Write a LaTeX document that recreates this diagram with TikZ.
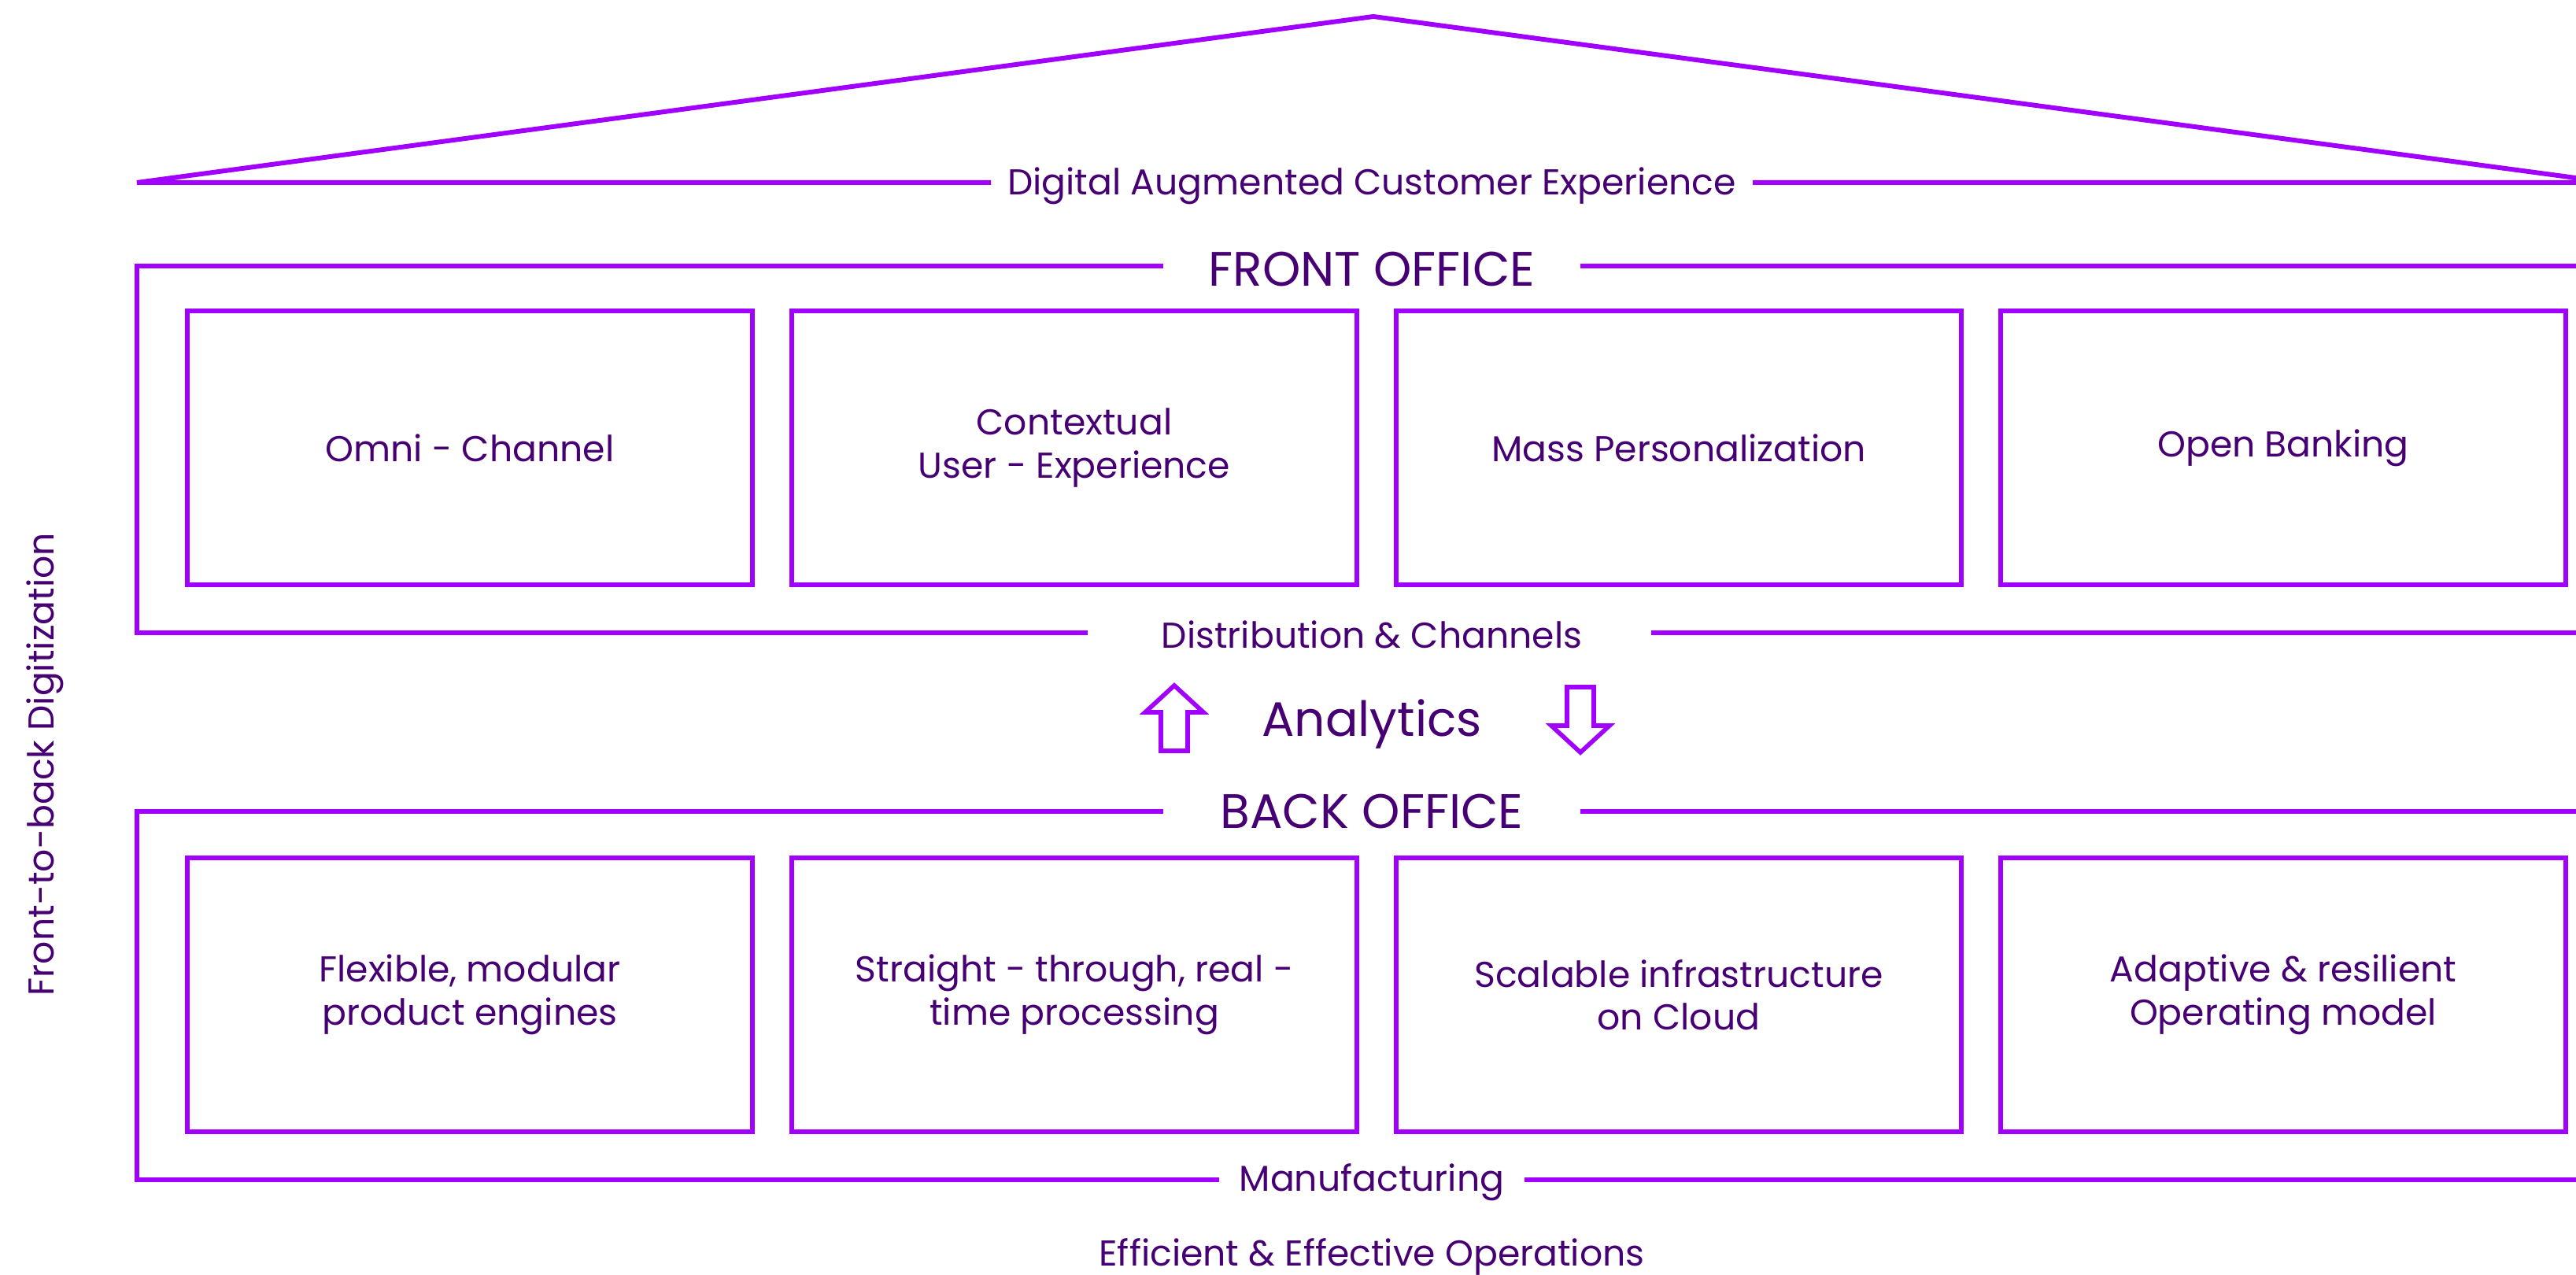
\documentclass[tikz,border=0pt]{standalone}
\usepackage{fontspec}
\setmainfont{Poppins}
\usetikzlibrary{positioning}
\definecolor{Violet}{HTML}{A100FF}
\definecolor{Plum}{HTML}{460073}
\tikzset{
  frm/.style={draw=Violet,line width=1.7pt},
  tile/.style={rectangle,draw=Violet,line width=1.7pt,minimum width=7.18cm,minimum height=3.48cm,text=Plum,align=center,font=\fontsize{13}{15.5}\selectfont},
  hd/.style={text=Plum,font=\fontsize{17.5}{21}\selectfont,inner sep=0pt},
  lb/.style={text=Plum,font=\fontsize{13}{15.5}\selectfont,inner sep=0pt},
  blk/.style={draw=Violet,line width=1.6pt,line join=miter},
}
\begin{document}
\begin{tikzpicture}
\clip (0,0) rectangle (32.73,16.19);
% -roof-
\coordinate (rl) at (1.74,13.87);
\coordinate (rt) at (17.45,15.98);
\coordinate (rr) at (33.17,13.87);
\node[lb] (dace) at (17.43,13.83) {Digital Augmented Customer Experience};
\draw[frm] (12.59,13.87) -- (rl) -- (rt) -- (rr) -- (22.27,13.87);
% -front office-
\node[hd] (fo) at (17.43,12.77) {FRONT OFFICE};
\node[lb] (dc) at (17.43,8.13) {Distribution \& Channels};
\draw[frm] (14.78,12.81) -- (1.74,12.81) -- (1.74,8.15) -- (13.82,8.15);
\draw[frm] (20.08,12.81) -- (34,12.81);
\draw[frm] (20.98,8.15) -- (34,8.15);
\node[tile] (f1) at (5.97,10.50) {Omni - Channel};
\node[tile] (f2) at (13.65,10.50) {Contextual\\User - Experience};
\node[tile] (f3) at (21.33,10.50) {Mass Personalization};
\node[tile] (f4) at (29.01,10.50) {Open Banking};
% -analytics-
\node[hd] (an) at (17.43,6.99) {Analytics};
\coordinate (ua) at (14.92,6.65);
\coordinate (da) at (20.08,7.46);
\draw[blk] (ua) ++(-0.17,0) -- ++(0,0.49) -- ++(-0.20,0) -- ++(0.37,0.34) -- ++(0.37,-0.34) -- ++(-0.20,0) -- ++(0,-0.49) -- cycle;
\draw[blk] (da) ++(-0.17,0) -- ++(0,-0.49) -- ++(-0.20,0) -- ++(0.37,-0.34) -- ++(0.37,0.34) -- ++(-0.20,0) -- ++(0,0.49) -- cycle;
% -back office-
\node[hd] (bo) at (17.43,5.88) {BACK OFFICE};
\node[lb] (mf) at (17.43,1.17) {Manufacturing};
\draw[frm] (14.78,5.88) -- (1.74,5.88) -- (1.74,1.20) -- (15.49,1.20);
\draw[frm] (20.08,5.88) -- (34,5.88);
\draw[frm] (19.37,1.20) -- (34,1.20);
\node[tile] (b1) at (5.97,3.55) {Flexible, modular\\product engines};
\node[tile] (b2) at (13.65,3.55) {Straight - through, real -\\time processing};
\node[tile] (b3) at (21.33,3.55) {Scalable infrastructure\\on Cloud};
\node[tile] (b4) at (29.01,3.55) {Adaptive \& resilient\\Operating model};
% -outer labels-
\node[lb,anchor=base] (eeo) at (17.43,0.11) {Efficient \& Effective Operations};
\node[lb,rotate=90] (ftb) at (0.57,6.48) {Front-to-back Digitization};
\end{tikzpicture}
\end{document}
